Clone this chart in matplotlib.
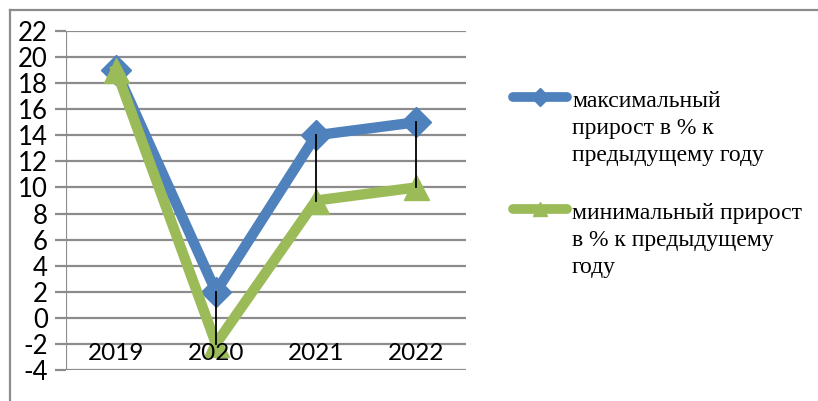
import matplotlib
matplotlib.use("Agg")
import matplotlib.pyplot as plt
from matplotlib.lines import Line2D

years = ["2019", "2020", "2021", "2022"]
max_growth = [19, 2, 14, 15]
min_growth = [19, -2, 9, 10]
y_ticks = list(range(-4, 23, 2))
label_max = "максимальный\nприрост в % к\nпредыдущему году"
label_min = "минимальный прирост\nв % к предыдущему\nгоду"

W, H = 818, 401
fig = plt.figure(figsize=(W / 100, H / 100), dpi=100)
# plot area: x 66..466, y 31..370 (pixels)
ax = fig.add_axes([66 / W, 1 - 370 / H, 400 / W, 339 / H])

blue = "#4F81BD"
green = "#9BBB59"
grid = "#8C8C8C"

x = list(range(len(years)))
ax.set_xlim(-0.5, len(years) - 0.5)
ax.set_ylim(-4, 22)

for yv in y_ticks:
    ax.axhline(yv, color=grid, lw=1.6, zorder=1)
ax.axvline(-0.5, color=grid, lw=1.6, zorder=1)

ax.plot(x, max_growth, color=blue, lw=7.5, marker="D", ms=15,
        solid_joinstyle="miter", zorder=3)
ax.plot(x, min_growth, color=green, lw=7.5, marker="^", ms=18,
        solid_joinstyle="miter", zorder=4)
for xi, a, b in zip(x, max_growth, min_growth):
    ax.plot([xi, xi], [a, b], color="black", lw=1.3, zorder=5)

for s in ax.spines.values():
    s.set_visible(False)
ax.set_xticks([])
ax.set_yticks(y_ticks)
ax.set_yticklabels([str(v) for v in y_ticks], fontsize=18.5, family="Lato")
ax.tick_params(axis="y", length=8, width=1.6, color=grid, pad=5)
for xi, lab in zip(x, years):
    ax.text(xi, -2.75, lab, ha="center", va="center", fontsize=17.5,
            family="Lato", zorder=6)

# outer border (top and left visible)
fig.add_artist(Line2D([10 / W, 1], [1 - 10 / H, 1 - 10 / H], color="#8C8C8C",
                      lw=1.6, transform=fig.transFigure))
fig.add_artist(Line2D([10 / W, 10 / W], [0, 1 - 10 / H], color="#8C8C8C",
                      lw=1.6, transform=fig.transFigure))

# legend
def leg_entry(y_px, color, marker, ms, text):
    yf = 1 - y_px / H
    fig.add_artist(Line2D([513 / W, 567 / W], [yf, yf], color=color, lw=7,
                          solid_capstyle="round", transform=fig.transFigure))
    fig.add_artist(Line2D([540 / W], [yf], color=color, marker=marker, ms=ms,
                          lw=0, transform=fig.transFigure))
    fig.text(572 / W, yf + 6 / H, text, ha="left", va="top", fontsize=17,
             family="Liberation Serif", linespacing=1.38)

leg_entry(97, blue, "D", 9, label_max)
leg_entry(209, green, "^", 10, label_min)

fig.savefig("out.png", dpi=100, facecolor="white")
